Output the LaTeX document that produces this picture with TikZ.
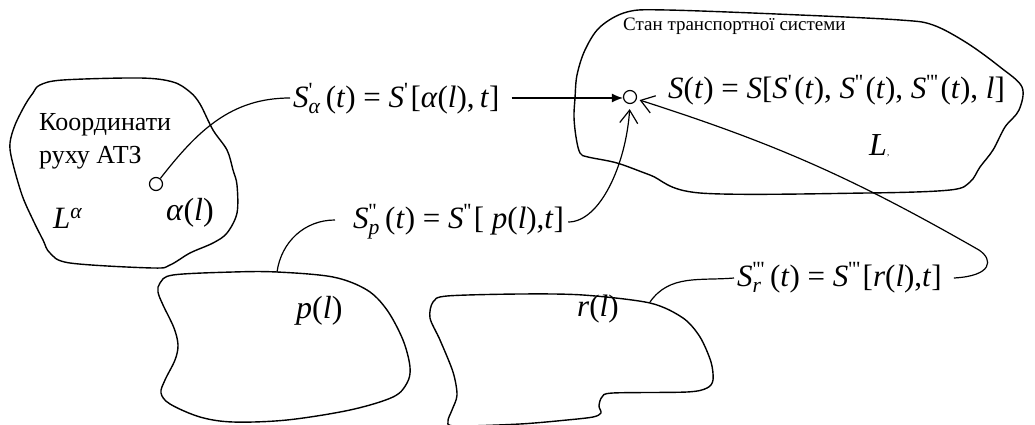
\documentclass[tikz,border=0pt]{standalone}
\usepackage{amsmath}
\usepackage{fontspec}
\setmainfont{Liberation Serif}
\usetikzlibrary{arrows.meta,calc}
\newcommand{\vv}[1]{\textit{#1}}
\newcommand{\tk}{\text{\textquotesingle}}
\newcommand{\tkk}{\text{\textquotesingle\textquotesingle}}
\newcommand{\tkkk}{\text{\textquotesingle\textquotesingle\textquotesingle}}
\begin{document}
\begin{tikzpicture}[x=1pt,y=-1pt,
  blob/.style={line width=1.4pt, line join=round},
  conn/.style={line width=1.2pt},
  fml/.style={inner sep=0pt, font=\fontsize{31}{34}\selectfont},
  big/.style={inner sep=0pt, font=\fontsize{32}{34}\selectfont},
  lbl/.style={inner sep=0pt, font=\fontsize{26}{30}\selectfont},
  ttl/.style={inner sep=0pt, font=\fontsize{19}{22}\selectfont},
  dot/.style={circle, draw, line width=1.2pt, minimum size=13pt, inner sep=0pt},
  barb/.style={conn, -{Straight Barb[length=13pt,width=18pt,line width=1.2pt]}},
]
\useasboundingbox (0,0) rectangle (1035,425);

% blobs
\draw[blob] plot[smooth cycle, tension=0.55] coordinates {
 (40,85) (63,80) (140,78) (173,82) (190,92) (200,104) (213,130) (227,150)
 (233,170) (237,185) (237,213) (227,233) (213,243) (190,253) (170,265)
 (153,268) (70,263) (50,253) (43,240) (33,220) (22,195) (12,160) (10,143)
 (15,125) (25,105) (33,93)};
\draw[blob] plot[smooth cycle, tension=0.55] coordinates {
 (600,27) (627,12) (667,10) (800,15) (900,20) (933,25) (967,43) (1000,67)
 (1022,87) (1019,110) (1005,127) (993,150) (980,167) (970,182) (950,190)
 (867,193) (700,193) (650,175) (617,163) (588,157) (580,153) (576,137)
 (574,117) (575,98) (577,75) (585,50)};
\draw[blob] plot[smooth cycle, tension=0.55] coordinates {
 (160,283) (173,275) (233,272) (277,272) (333,277) (367,290) (387,310)
 (403,340) (410,367) (407,383) (393,397) (350,410) (287,420) (233,422)
 (200,417) (170,404) (161,393) (165,380) (175,360) (178,345) (174,328)
 (163,305) (158,292)};
\draw[blob] plot[smooth cycle, tension=0.5] coordinates {
 (433,302) (447,296) (520,294) (583,295) (650,303) (683,318) (700,337)
 (711,362) (713,380) (707,388) (687,392) (613,393) (602,397) (599,406)
 (601,413) (593,417) (567,420) (520,424) (455,426) (448,421) (452,410)
 (457,395) (453,372) (440,340) (430,318)};

% texts
\node[lbl, anchor=base west] (tK) at (39,130) {Координати};
\node[lbl, anchor=base west] (tR) at (39,163) {руху АТЗ};
\node[fml, anchor=base west] (tLa) at (53,228) {\vv{L}$^{\vv{α}}$};
\node[big, anchor=base west] (tal) at (166,220) {\vv{α}(\vv{l})};
\node[ttl, anchor=base west] (tT) at (623,31) {Стан транспортної системи};
\node[big, anchor=base west] (tL) at (869,155) {\vv{L}{\fontsize{9}{9}\selectfont,}};
\node[big, anchor=base west] (tp) at (296,318) {\vv{p}(\vv{l})};
\node[fml, anchor=base west] (tr) at (577,316) {\vv{r}(\vv{l})};

% formulas
\node[fml, anchor=base west] (fA) at (293,107) {\vv{S}$^{\tk}_{\vv{α}}$\,(\vv{t}) = \vv{S}$^{\tk}$\hspace{2pt}[\vv{α}(\vv{l}),\,\vv{t}]};
\node[fml, anchor=base west] (fP) at (353,228) {\vv{S}$^{\tkk}_{\vv{p}}$\,(\vv{t}) = \vv{S}$^{\tkk}$\hspace{2pt}[ \vv{p}(\vv{l}),\vv{t}]};
\node[fml, anchor=base west] (fR) at (737,286) {\vv{S}$^{\tkkk}_{\vv{r}}$\,(\vv{t}) = \vv{S}$^{\tkkk}$\hspace{2pt}[\vv{r}(\vv{l}),\vv{t}]};
\node[fml, anchor=base west] (fM) at (668,99) {\vv{S}(\vv{t}) = \vv{S}[\vv{S}$^{\tk}$\hspace{2pt}(\vv{t}), \vv{S}$^{\tkk}$\hspace{2pt}(\vv{t}), \vv{S}$^{\tkkk}$\hspace{2pt}(\vv{t}), \vv{l}]};

% small circles
\node[dot] (cA) at (156,184) {};
\node[dot] (cM) at (630,97) {};

% attachment points
\coordinate (aW) at ($(fA.base west)+(-3,-9)$);
\coordinate (aE) at ($(fA.base east)+(12,-9)$);
\coordinate (pW) at ($(fP.base west)+(-18,-8)$);
\coordinate (pE) at ($(fP.base east)+(4,-6)$);
\coordinate (rW) at ($(fR.base west)+(-3,-8)$);
\coordinate (rE) at ($(fR.base east)+(12,-8)$);
\coordinate (pTop) at (277,272);
\coordinate (rTop) at (650,302);

% connectors
\draw[conn] (aW) to[out=180,in=52] (cA);
\draw[conn,-{Latex[length=11pt,width=9pt]}] (aE) -- (aE -| cM.west);
\draw[barb, shorten >=5pt] (pE) .. controls +(32,0) and +(-4,60) .. (cM.south);
\draw[barb, shorten >=3pt] (rE) .. controls +(38,-2) and +(15,10) .. ++(25,-28) to[bend right=6] (cM);
\draw[conn] (pW) to[out=180,in=82] (pTop);
\draw[conn] (rW) to[out=185,in=55] (rTop);
\end{tikzpicture}
\end{document}
